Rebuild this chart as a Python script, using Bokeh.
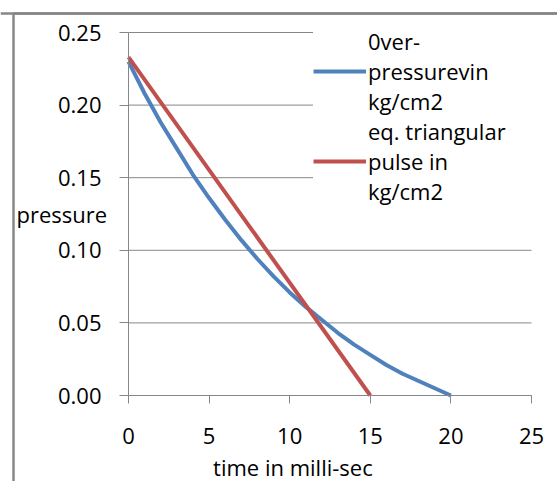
from bokeh.plotting import figure
from bokeh.models import (Range1d, Legend, LegendItem, Label, FixedTicker,
                          NumeralTickFormatter, Span)
from bokeh.embed import file_html
from bokeh.resources import INLINE

# ---- data ----
time_overpressure = [0, 1, 2, 3, 4, 5, 6, 7, 8, 9, 10, 11, 12, 13, 14, 15, 16, 17, 18, 19, 20]
overpressure = [0.230, 0.208, 0.188, 0.170, 0.152, 0.136, 0.121, 0.107, 0.094, 0.082, 0.071,
                0.061, 0.052, 0.043, 0.035, 0.028, 0.021, 0.015, 0.010, 0.005, 0.000]
time_triangular = [0, 15]
triangular = [0.233, 0.0]
x_ticks = [0, 5, 10, 15, 20, 25]
y_ticks = [0.0, 0.05, 0.10, 0.15, 0.20, 0.25]
series_labels = ["0ver-\npressurevin\nkg/cm2", "eq. triangular\npulse in\nkg/cm2"]
x_title = "time in milli-sec"
y_title = "pressure"

# ---- layout / style ----
W, H = 557, 481
PLOT_LEFT, PLOT_RIGHT, PLOT_TOP, PLOT_BOTTOM = 128, 531, 32, 395   # pixel box of the axes
CHART_EDGE = 13                                                   # chart-area border offset
FONT = "Open Sans"
FS = "22px"
GRAY = "#878787"
BLUE = "#4F81BD"
RED = "#C0504D"

x_lo, x_hi = x_ticks[0], x_ticks[-1]
y_lo, y_hi = y_ticks[0], y_ticks[-1]
sx = (PLOT_RIGHT - PLOT_LEFT) / (x_hi - x_lo)
sy = (PLOT_BOTTOM - PLOT_TOP) / (y_hi - y_lo)
x_start, x_end = x_lo - PLOT_LEFT / sx, x_hi + (W - PLOT_RIGHT) / sx
y_start, y_end = y_lo - (H - PLOT_BOTTOM) / sy, y_hi + PLOT_TOP / sy

p = figure(width=W, height=H, x_range=Range1d(x_start, x_end), y_range=Range1d(y_start, y_end),
           output_backend="svg", toolbar_location=None,
           min_border_left=0, min_border_right=0, min_border_top=0, min_border_bottom=0)
p.outline_line_color = None
p.background_fill_color = "white"
p.border_fill_color = "white"
p.xgrid.grid_line_color = None
p.ygrid.grid_line_color = None

# chart-area border (only its top and left edges fall inside the picture)
edge_x = x_start + CHART_EDGE / sx
edge_y = y_end - CHART_EDGE / sy
border = p.segment(x0=[edge_x, edge_x], y0=[edge_y, edge_y], x1=[edge_x, x_end], y1=[y_start, edge_y],
                   line_color=GRAY, line_width=2.5)
border.level = "overlay"
p.add_layout(Span(location=edge_y, dimension="width", line_color=GRAY, line_width=2.5,
                  level="overlay"))

# horizontal gridlines at the y ticks
p.segment(x0=x_lo, x1=x_hi, y0=y_ticks, y1=y_ticks, line_color=GRAY, line_width=1)

p.xaxis.ticker = FixedTicker(ticks=x_ticks)
p.yaxis.ticker = FixedTicker(ticks=y_ticks)
p.yaxis.formatter = NumeralTickFormatter(format="0.00")
p.xaxis.fixed_location = 0
p.yaxis.fixed_location = 0
p.xaxis.bounds = (x_lo, x_hi)
p.yaxis.bounds = (y_lo, y_hi)
for ax in (p.xaxis, p.yaxis):
    ax.axis_line_color = GRAY
    ax.axis_line_width = 1
    ax.major_tick_line_color = GRAY
    ax.major_tick_in = 0
    ax.minor_tick_line_color = None
    ax.major_label_text_font = FONT
    ax.major_label_text_font_size = FS
    ax.major_label_text_color = "black"
p.xaxis.major_tick_out = 8
p.yaxis.major_tick_out = 9
p.xaxis.major_label_standoff = 24
p.yaxis.major_label_standoff = 18

r1 = p.line(time_overpressure, overpressure, line_color=BLUE, line_width=4)
r2 = p.line(time_triangular, triangular, line_color=RED, line_width=4)

p.add_layout(Label(x=-6.95, y=0.1253, text=y_title, text_align="left", text_baseline="middle",
                   text_font=FONT, text_font_size=FS, text_color="black"))
p.add_layout(Label(x=10.2, y=-0.0495, text=x_title, text_align="center", text_baseline="middle",
                   text_font=FONT, text_font_size=FS, text_color="black"))

legend = Legend(items=[LegendItem(label=series_labels[0], renderers=[r1]),
                       LegendItem(label=series_labels[1], renderers=[r2])],
                location=(313, 275))
legend.label_text_font = FONT
legend.label_text_font_size = FS
legend.label_text_line_height = 1.6
legend.label_text_color = "black"
legend.label_width = 220
legend.glyph_width = 53
legend.glyph_height = 20
legend.label_standoff = 2
legend.padding = 12
legend.spacing = 0
legend.margin = 0
legend.border_line_color = None
legend.background_fill_color = "white"
legend.background_fill_alpha = 1
p.add_layout(legend, "center")

open("out.html", "w").write(file_html(p, INLINE))
